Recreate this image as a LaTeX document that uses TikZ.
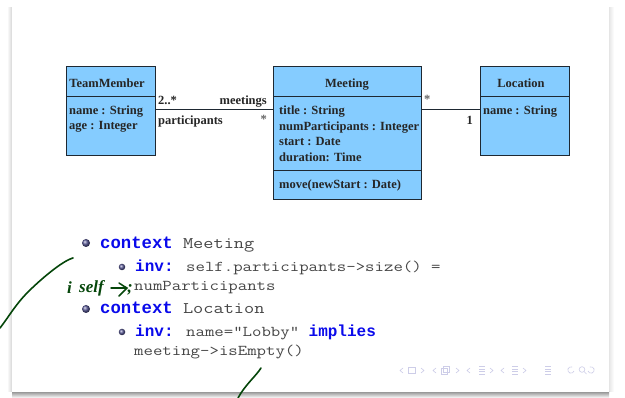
\documentclass[tikz,border=0pt]{standalone}
\usepackage{fontspec}
\setmainfont{Liberation Serif}
\newfontfamily\monof[FakeStretch=1.22]{Latin Modern Mono}
\newfontfamily\kwf{Liberation Mono}
\usetikzlibrary{positioning}
\definecolor{umlfill}{RGB}{133,204,255}
\definecolor{umlline}{RGB}{30,40,50}
\definecolor{kwblue}{RGB}{10,10,235}
\definecolor{codegray}{RGB}{70,70,70}
\definecolor{penGreen}{RGB}{5,70,10}
\definecolor{navc}{RGB}{205,205,232}
\definecolor{ballc}{RGB}{88,88,150}
\tikzset{
  x=1pt,y=-1pt,
  umlbox/.style={draw=umlline,line width=1pt,fill=umlfill,inner sep=0pt,anchor=north west,font=\fontsize{12.5}{15.7}\selectfont\bfseries,text=black!85},
  assoc/.style={draw=umlline,line width=1pt},
  rolelabel/.style={inner sep=0pt,font=\fontsize{12.5}{14}\selectfont\bfseries,text=black!85},
  codeline/.style={inner sep=0pt,anchor=base west,text=codegray,font=\fontsize{15}{15}\monof},
  ctxline/.style={inner sep=0pt,anchor=base west,text=codegray,font=\fontsize{16.2}{16.2}\monof},
  ballA/.style={circle,inner sep=0pt,minimum size=8pt,shade,ball color=ballc},
  ballB/.style={circle,inner sep=0pt,minimum size=6.5pt,shade,ball color=ballc},
  pen/.style={draw=penGreen,line width=1.5pt,line cap=round},
  handtext/.style={inner sep=0pt,anchor=base west,text=penGreen,font=\fontsize{17}{17}\selectfont\bfseries\itshape},
  nav/.style={draw=navc,line width=.6pt,fill=none}
}
\newcommand{\kwa}[1]{\textcolor{kwblue}{\fontsize{17.3}{17.3}\kwf\bfseries #1}}
\newcommand{\kwb}[1]{\textcolor{kwblue}{\fontsize{16}{16}\kwf\bfseries #1}}
\begin{document}
\begin{tikzpicture}
\useasboundingbox (0,0) rectangle (625,398);
% slide shadow
\shade[left color=white,right color=black!16] (7,8) rectangle (12,392);
\shade[left color=black!10,right color=white] (609,8) rectangle (614,392);
\shade[top color=black!40,bottom color=white] (12,392) rectangle (609,398);
\fill[white] (12,0) rectangle (609,392);
% TeamMember
\node[umlbox,minimum width=89pt,minimum height=30pt] (tmh) at (66,66) {};
\node[rolelabel,anchor=base] (tmn) at (107,87.5) {TeamMember};
\node[umlbox,minimum width=89pt,minimum height=59pt] (tmb) at (66,96) {};
\node[rolelabel,anchor=north west,align=left,font=\fontsize{12.5}{15.5}\selectfont\bfseries] (tmt) at (69,105.5) {name : String\\age : Integer};
% Meeting
\node[umlbox,minimum width=148pt,minimum height=30pt] (mh) at (273,66) {};
\node[rolelabel,anchor=base] (mn) at (347,87.5) {Meeting};
\node[umlbox,minimum width=148pt,minimum height=74pt] (mb) at (273,96) {};
\node[umlbox,minimum width=148pt,minimum height=29pt] (mo) at (273,170) {};
\node[rolelabel,anchor=north west,align=left,font=\fontsize{12.5}{15.7}\selectfont\bfseries] (mt) at (279,105.5) {title : String\\numParticipants : Integer\\start : Date\\duration: Time};
\node[rolelabel,anchor=base west] (mm) at (279,189) {move(newStart : Date)};
% Location
\node[umlbox,minimum width=89pt,minimum height=30pt] (lh) at (480,66) {};
\node[rolelabel,anchor=base] (ln) at (521,87.5) {Location};
\node[umlbox,minimum width=89pt,minimum height=59pt] (lb) at (480,96) {};
\node[rolelabel,anchor=base west] (lt) at (483,114.5) {name : String};
% connectors
\coordinate (ty) at (0,110);
\draw[assoc] (tmb.east |- ty) -- (mb.west |- ty);
\draw[assoc] (mb.east |- ty) -- (lb.west |- ty);
% role labels
\node[rolelabel,anchor=base west] (r1) at (158,105) {2..*};
\node[rolelabel,anchor=base east] (r2) at (267,105) {meetings};
\node[rolelabel,anchor=base west] (r3) at (158,125) {participants};
\node[rolelabel,anchor=base east,text=black!60] (r4) at (267,124) {*};
\node[rolelabel,anchor=base west,text=black!60] (r5) at (424,104) {*};
\node[rolelabel,anchor=base east] (r6) at (473,125) {1};
% bullets
\node[ballA] (b1) at (86,243) {};
\node[ballB] (b2) at (122,267) {};
\node[ballA] (b3) at (86,309) {};
\node[ballB] (b4) at (122,332) {};
% code
\node[ctxline] (c1) at (100,249) {\kwa{context} Meeting};
\node[codeline] (c2) at (135,272) {\kwb{inv:} self.participants->size() =};
\node[codeline] (c3) at (134,291) {numParticipants};
\node[ctxline] (c4) at (100,314) {\kwa{context} Location};
\node[codeline] (c5) at (135,337) {\kwb{inv:} name="Lobby" \kwb{implies}};
\node[codeline] (c6) at (134,356) {meeting->isEmpty()};
% handwriting
\path[pen,line width=1.6pt] (73,258) .. controls (62,261) and (40,280) .. (28,292) .. controls (15,305) and (8,318) .. (0,328);
\path[pen,line width=1.6pt] (261,368) .. controls (256,376) and (245,385) .. (238,398);
\node[handtext] (h0) at (67,294) {i};
\node[handtext] (h1) at (79,293) {self};
\path[pen] (111,288) -- (126,288);
\path[pen] (119,283) .. controls (122,285) and (125,287) .. (127,288) .. controls (124,291) and (122,293) .. (119,296);
\node[handtext] (h2) at (127,293) {;};
% navigation symbols
\foreach \nx in {400,433,467,501}{
  \path[nav] (\nx+3,368) -- (\nx,370.5) -- (\nx+3,373);
}
\foreach \nx in {421,456,490,523}{
  \path[nav] (\nx,368) -- (\nx+3,370.5) -- (\nx,373);
}
\path[nav] (408,367) rectangle (415,373);
\path[nav] (441,368) rectangle (447,374);
\path[nav] (443,366) rectangle (449,372);
\foreach \nx in {479,512,545}{
  \path[nav] (\nx,366.5) -- (\nx+6,366.5) (\nx,369) -- (\nx+6,369) (\nx,371.5) -- (\nx+6,371.5) (\nx,374) -- (\nx+6,374);
}
\path[nav] (571,370) ++(20:3.2) arc[start angle=20,end angle=290,radius=3.2];
\path[nav] (582,369.5) circle[radius=2.8];
\path[nav] (584,371.5) -- (586.5,374);
\path[nav] (591,370) ++(160:3.2) arc[start angle=160,end angle=-110,radius=3.2];
\end{tikzpicture}
\end{document}
